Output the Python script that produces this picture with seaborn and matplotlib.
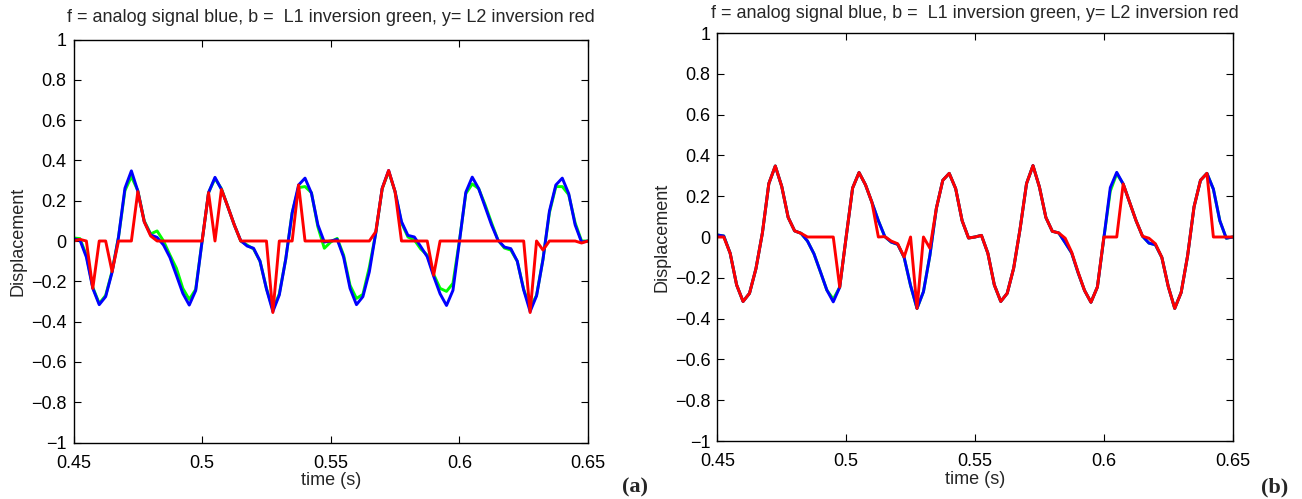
import numpy as np
import pandas as pd
import matplotlib
matplotlib.use("Agg")
import matplotlib.pyplot as plt
import seaborn as sns

# ---------------- data ----------------
t_start, t_end, n_samples = 0.45, 0.65, 81

analog_signal = [
    0.01, 0.005, -0.08, -0.235, -0.316, -0.276, -0.155, 0.02, 0.262, 0.348,
    0.248, 0.096, 0.03, 0.018, -0.02, -0.082, -0.17, -0.26, -0.318, -0.246,
    0.0, 0.24, 0.316, 0.256, 0.17, 0.08, 0.002, -0.025, -0.036, -0.10,
    -0.238, -0.35, -0.268, -0.09, 0.14, 0.278, 0.312, 0.237, 0.08, -0.005,
    0.0, 0.008, -0.08, -0.235, -0.316, -0.276, -0.153, 0.04, 0.262, 0.35,
    0.245, 0.096, 0.028, 0.02, -0.028, -0.078, -0.175, -0.262, -0.32, -0.245,
    -0.005, 0.242, 0.317, 0.26, 0.17, 0.08, 0.004, -0.03, -0.038, -0.10,
    -0.243, -0.35, -0.272, -0.092, 0.148, 0.278, 0.312, 0.235, 0.08, -0.006,
    0.0,
]

l1_inversion_a = [
    0.015, 0.012, -0.07, -0.23, -0.31, -0.27, -0.15, 0.02, 0.25, 0.32,
    0.25, 0.10, 0.035, 0.05, 0.0, -0.07, -0.135, -0.235, -0.29, -0.24,
    0.0, 0.24, 0.31, 0.26, 0.17, 0.08, 0.0, -0.02, -0.04, -0.10,
    -0.235, -0.34, -0.262, -0.09, 0.14, 0.265, 0.27, 0.24, 0.07, -0.036,
    -0.005, 0.013, -0.07, -0.22, -0.285, -0.265, -0.13, 0.04, 0.26, 0.345,
    0.245, 0.09, 0.02, 0.005, -0.04, -0.07, -0.165, -0.235, -0.25, -0.21,
    0.0, 0.235, 0.283, 0.26, 0.18, 0.09, 0.005, -0.035, -0.045, -0.10,
    -0.24, -0.33, -0.27, -0.09, 0.14, 0.27, 0.27, 0.23, 0.09, 0.0,
    0.0,
]

l2_inversion_a = [
    0.0, 0.008, 0.0, -0.235, 0.0, 0.0, -0.152, 0.0, 0.0, 0.0,
    0.245, 0.095, 0.025, 0.0, 0.0, 0.0, 0.0, 0.0, 0.0, 0.0,
    0.0, 0.24, 0.0, 0.256, 0.17, 0.08, 0.0, 0.0, 0.0, 0.0,
    0.0, -0.355, 0.0, 0.0, 0.0, 0.278, 0.0, 0.0, 0.0, 0.0,
    0.0, 0.0, 0.0, 0.0, 0.0, 0.0, 0.0, 0.046, 0.26, 0.35,
    0.245, 0.0, 0.0, 0.0, 0.0, 0.0, -0.17, 0.0, 0.0, 0.0,
    0.0, 0.0, 0.0, 0.0, 0.0, 0.0, 0.0, 0.0, 0.0, 0.0,
    0.0, -0.355, 0.0, -0.045, 0.0, 0.0, 0.0, 0.0, 0.0, -0.01,
    0.0,
]

l1_inversion_b = [
    0.01, 0.005, -0.08, -0.235, -0.316, -0.276, -0.155, 0.02, 0.262, 0.348,
    0.248, 0.096, 0.03, 0.018, -0.02, -0.082, -0.17, -0.26, -0.305, -0.246,
    0.0, 0.24, 0.316, 0.256, 0.17, 0.08, 0.002, -0.025, -0.036, -0.10,
    -0.238, -0.35, -0.268, -0.09, 0.14, 0.278, 0.312, 0.237, 0.08, -0.005,
    0.0, 0.008, -0.08, -0.235, -0.316, -0.276, -0.153, 0.04, 0.262, 0.35,
    0.245, 0.096, 0.028, 0.02, -0.028, -0.078, -0.175, -0.262, -0.32, -0.245,
    -0.005, 0.225, 0.31, 0.26, 0.17, 0.08, 0.004, -0.03, -0.038, -0.10,
    -0.243, -0.35, -0.272, -0.092, 0.148, 0.278, 0.312, 0.235, 0.08, -0.006,
    0.0,
]

l2_inversion_b = [
    0.0, 0.0, -0.08, -0.235, -0.316, -0.276, -0.155, 0.02, 0.262, 0.348,
    0.248, 0.096, 0.03, 0.018, 0.0, 0.0, 0.0, 0.0, 0.0, -0.246,
    0.0, 0.24, 0.316, 0.256, 0.17, 0.0, 0.002, -0.02, -0.033, -0.098,
    0.0, -0.35, 0.0, -0.055, 0.14, 0.278, 0.312, 0.237, 0.08, -0.005,
    0.0, 0.008, -0.08, -0.235, -0.316, -0.276, -0.153, 0.04, 0.262, 0.35,
    0.245, 0.096, 0.028, 0.02, -0.006, -0.074, -0.172, -0.262, -0.32, -0.245,
    0.0, 0.0, 0.0, 0.26, 0.17, 0.08, 0.004, -0.006, -0.033, -0.10,
    -0.243, -0.35, -0.272, -0.092, 0.148, 0.278, 0.312, 0.0, 0.0, 0.0,
    0.0,
]

x_ticks = [0.45, 0.5, 0.55, 0.6, 0.65]
x_tick_labels = ["0.45", "0.5", "0.55", "0.6", "0.65"]
y_ticks = [1, 0.8, 0.6, 0.4, 0.2, 0, -0.2, -0.4, -0.6, -0.8, -1]
y_tick_labels = ["1", "0.8", "0.6", "0.4", "0.2", "0", "\u22120.2", "\u22120.4",
                 "\u22120.6", "\u22120.8", "\u22121"]

title_text = "f = analog signal blue, b =  L1 inversion green, y= L2 inversion red"
x_label = "time (s)"
y_label = "Displacement"
panel_labels = ["(a)", "(b)"]

time = np.linspace(t_start, t_end, n_samples)

# ---------------- style ----------------
sns.set_style("ticks")
plt.rcParams["font.family"] = ["Liberation Sans", "DejaVu Sans"]
plt.rcParams["axes.unicode_minus"] = True

W, H = 1302, 499
fig = plt.figure(figsize=(W / 100, H / 100), dpi=100)

def px_axes(left, top, right, bottom):
    return fig.add_axes([left / W, 1 - bottom / H, (right - left) / W, (bottom - top) / H])

ax_a = px_axes(73.5, 39.5, 588.0, 442.5)
ax_b = px_axes(717.3, 33.0, 1232.7, 441.0)

panels = [
    (ax_a, l1_inversion_a, l2_inversion_a, panel_labels[0], 648, 17),
    (ax_b, l1_inversion_b, l2_inversion_b, panel_labels[1], 1288, 14),
]

lw = 2.1
for ax, green_vals, red_vals, plabel, plx, title_y in panels:
    df = pd.DataFrame({"time": time, "analog": analog_signal,
                       "l1": green_vals, "l2": red_vals})
    sns.lineplot(data=df, x="time", y="l1", ax=ax, color="#00ff00", lw=lw)
    sns.lineplot(data=df, x="time", y="analog", ax=ax, color="#0000ff", lw=lw)
    sns.lineplot(data=df, x="time", y="l2", ax=ax, color="#ff0000", lw=lw)

    ax.set_xlim(t_start, t_end)
    ax.set_ylim(-1, 1)
    ax.set_xticks(x_ticks)
    ax.set_xticklabels(x_tick_labels)
    ax.set_yticks(y_ticks)
    ax.set_yticklabels(y_tick_labels)
    ax.tick_params(direction="in", top=True, right=True, length=5, width=0.8,
                   labelsize=13, colors="black")
    ax.tick_params(axis="x", pad=9)
    ax.tick_params(axis="y", pad=5)
    for sp in ax.spines.values():
        sp.set_visible(True)
        sp.set_linewidth(1.0)
        sp.set_color("black")
    ax.set_xlabel(x_label, fontsize=13, labelpad=0)
    ax.set_ylabel(y_label, fontsize=13, labelpad=3)
    ax.set_title("")
    ax.grid(False)
    cx = (ax.get_position().x0 + ax.get_position().x1) / 2
    fig.text(cx, 1 - title_y / H, title_text, ha="center", va="center", fontsize=13)
    fig.text(plx / W, 1 - 487 / H, plabel, ha="right", va="center",
             fontsize=16, fontweight="bold", family=["Liberation Serif", "DejaVu Serif"])

fig.savefig("out.png", dpi=100, facecolor="white")
